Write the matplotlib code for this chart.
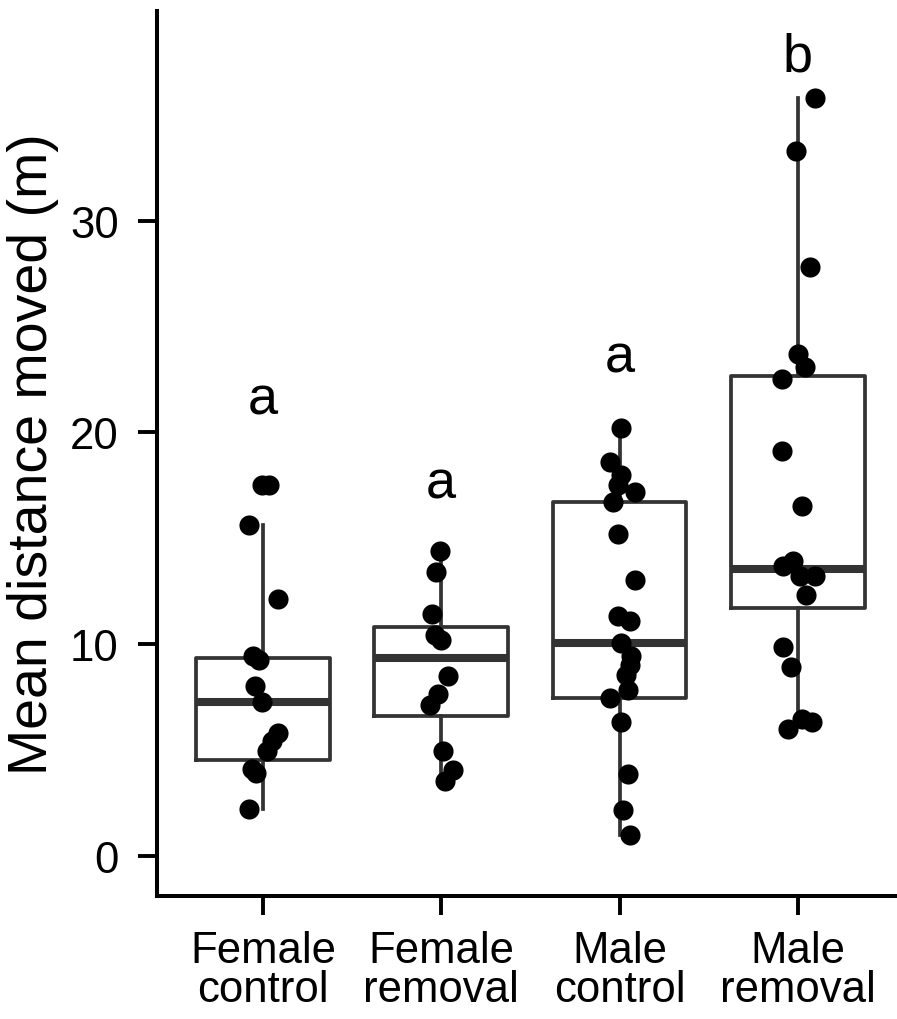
import numpy as np
import matplotlib
matplotlib.use("Agg")
import matplotlib.pyplot as plt

plt.rcParams['font.family'] = ['Liberation Sans', 'DejaVu Sans']

# ── data ──────────────────────────────────────
groups = ["Female\ncontrol", "Female\nremoval", "Male\ncontrol", "Male\nremoval"]

fc = [17.5, 17.5, 15.6, 12.1, 9.45, 9.26, 8.03, 7.27, 5.8, 5.4, 4.96, 4.1, 3.9, 2.2]
fr = [14.4, 13.4, 11.4, 10.4, 10.2, 8.5, 7.65, 7.1, 4.96, 4.06, 3.54]
mc = [20.2, 18.6, 18.0, 17.5, 17.2, 16.7, 15.2, 13.0, 11.3, 11.1, 10.06,
      9.45, 9.0, 8.55, 7.84, 7.46, 6.33, 3.87, 2.17, 0.95]
mr = [35.8, 33.3, 27.8, 23.7, 23.1, 22.5, 19.1, 16.5, 13.9, 13.7, 13.2,
      13.2, 12.3, 9.87, 8.93, 6.47, 6.33, 6.0]

# horizontal jitter of each point (category units)
jit_fc = [-0.007, 0.037, -0.08, 0.082, -0.058, -0.024, -0.047, -0.007,
          0.082, 0.049, 0.021, -0.063, -0.041, -0.08]
jit_fr = [-0.007, -0.03, -0.052, -0.035, 0.0, 0.038, -0.019, -0.063,
          0.01, 0.066, 0.021]
jit_mc = [0.011, -0.056, 0.006, -0.011, 0.084, -0.039, -0.011, 0.084,
          -0.011, 0.056, 0.006, 0.067, 0.056, 0.034, 0.045, -0.056, 0.006,
          0.05, 0.017, 0.056]
jit_mr = [0.094, -0.013, 0.066, 0.0, 0.038, -0.091, -0.091, 0.026, -0.03,
          -0.086, 0.01, 0.094, 0.043, -0.086, -0.041, 0.021, 0.077, -0.058]

# box statistics
whis_lo = [2.2, 3.55, 0.95, 6.3]
q1 = [4.53, 6.58, 7.46, 11.7]
med = [7.27, 9.35, 10.06, 13.55]
q3 = [9.35, 10.8, 16.7, 22.65]
whis_hi = [15.6, 14.4, 20.2, 35.8]

letters = ["a", "a", "a", "b"]
letter_y = [20.9, 16.9, 22.85, 37.1]

# ── plot ──────────────────────────────────────
fig = plt.figure(figsize=(8.97, 10.20), dpi=100)
ax = fig.add_axes([0.175, 0.1206, 0.825, 0.8676])

pos = np.arange(len(groups))
stats = []
for i in range(len(groups)):
    stats.append(dict(whislo=whis_lo[i], q1=q1[i], med=med[i], q3=q3[i],
                      whishi=whis_hi[i], fliers=[]))

grey = "#333333"
ax.bxp(stats, positions=pos, widths=0.75, showfliers=False, showcaps=False,
       boxprops=dict(color=grey, linewidth=2.7),
       whiskerprops=dict(color=grey, linewidth=2.7),
       medianprops=dict(color=grey, linewidth=5.8, solid_capstyle='butt'))

for i, (vals, jit) in enumerate([(fc, jit_fc), (fr, jit_fr), (mc, jit_mc), (mr, jit_mr)]):
    ax.scatter(pos[i] + np.array(jit), vals, s=210, color="black", zorder=5,
               linewidths=0)

for i in range(len(groups)):
    ax.text(pos[i], letter_y[i], letters[i], ha="center", va="baseline",
            fontsize=39)

ax.set_xlim(-0.594, 3.556)
ax.set_ylim(-1.91, 39.9)
ax.set_xticks(pos)
ax.set_xticklabels(groups, fontsize=31.5, linespacing=0.95)
ax.set_yticks([0, 10, 20, 30])
ax.tick_params(axis='both', length=13.5, width=2.8, labelsize=31.5)
ax.tick_params(axis='y', pad=14)
ax.tick_params(axis='x', pad=11)
ax.set_ylabel("Mean distance moved (m)", fontsize=40, labelpad=8)

for s in ["top", "right"]:
    ax.spines[s].set_visible(False)
for s in ["left", "bottom"]:
    ax.spines[s].set_linewidth(2.9)

fig.savefig("out.png", dpi=100)
